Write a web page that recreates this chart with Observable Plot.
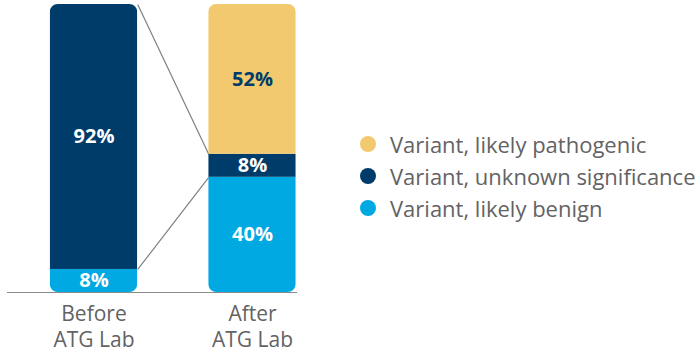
<!DOCTYPE html>
<html>
<head>
<meta charset="utf-8">
<script src="https://cdn.jsdelivr.net/npm/d3@7"></script>
<script src="https://cdn.jsdelivr.net/npm/@observablehq/plot@0.6"></script>
<style>
  html, body { margin: 0; padding: 0; background: #fff; }
  #wrap { position: relative; width: 700px; height: 355px; font-family: "Open Sans", sans-serif; }
  #chart { position: absolute; left: 0; top: 0; }
  #legend { position: absolute; left: 360px; top: 128px; }
  .row { display: flex; align-items: center; height: 32px; font-size: 22px; color: #636363; white-space: nowrap; }
  .sw { width: 16px; height: 16px; border-radius: 50%; margin-left: 0px; margin-right: 14px; }
</style>
</head>
<body>
<div id="wrap"><div id="chart"></div><div id="legend"></div></div>
<script>
// ---- data ----
const groups = ["Before\nATG Lab", "After\nATG Lab"];
const categories = ["Variant, likely benign", "Variant, unknown significance", "Variant, likely pathogenic"]; // bottom -> top
const benign = [8, 40];
const unknown = [92, 8];
const pathogenic = [0, 52];
const colors = ["#00a9e2", "#003c69", "#f2c96f"];
const labelColors = ["#ffffff", "#ffffff", "#003c69"];
const legendOrder = ["Variant, likely pathogenic", "Variant, unknown significance", "Variant, likely benign"];

// ---- build stacked table ----
const series = [benign, unknown, pathogenic];
const hw = 0.276; // half bar width in x units
const rows = [];
groups.forEach((g, i) => {
  let acc = 0;
  series.forEach((s, k) => {
    const v = s[i];
    if (v > 0) rows.push({i, group: g, cat: categories[k], k, y1: acc, y2: acc + v, v});
    acc += v;
  });
});
// connectors: edges of the "unknown" segment
const links = [
  {x1: 0 + hw, x2: 1 - hw, y1: benign[0] + unknown[0], y2: benign[1] + unknown[1]},
  {x1: 0 + hw, x2: 1 - hw, y1: benign[0], y2: benign[1]}
];
const labels = groups.map((g, i) => ({i, g}));

const plot = Plot.plot({
  width: 310,
  height: 355,
  marginLeft: 7,
  marginRight: 13,
  marginTop: 4,
  marginBottom: 63,
  x: {type: "linear", domain: [-0.5457, 1.284], axis: null},
  y: {domain: [0, 100], axis: null},
  color: {domain: categories, range: colors},
  style: {fontFamily: "Open Sans, sans-serif", background: "transparent"},
  marks: [
    Plot.link(links, {x1: "x1", x2: "x2", y1: "y1", y2: "y2", stroke: "#808080", strokeWidth: 1.2}),
    Plot.rect(rows, {x1: d => d.i - hw, x2: d => d.i + hw, y1: "y1", y2: "y2", fill: "cat"}),
    Plot.ruleY([0], {stroke: "#8a8a8a", strokeWidth: 1.2}),
    Plot.text(rows, {x: "i", y: d => (d.y1 + d.y2) / 2, text: d => d.v + "%",
      fill: d => labelColors[d.k], fontSize: 20, fontWeight: "bold"}),
    Plot.text(labels, {x: "i", y: 0, text: "g", fill: "#636363", fontSize: 21, lineAnchor: "top", lineHeight: 1.2, dy: 11})
  ]
});

// rounded corners for whole bars: clip the rect group using scales
const sx = plot.scale("x"), sy = plot.scale("y");
const ns = "http://www.w3.org/2000/svg";
const defs = document.createElementNS(ns, "defs");
const cp = document.createElementNS(ns, "clipPath");
cp.setAttribute("id", "barclip");
groups.forEach((g, i) => {
  const total = benign[i] + unknown[i] + pathogenic[i];
  const r = document.createElementNS(ns, "rect");
  const xa = sx.apply(i - hw), xb = sx.apply(i + hw);
  const ya = sy.apply(total), yb = sy.apply(0);
  r.setAttribute("x", xa); r.setAttribute("y", ya);
  r.setAttribute("width", xb - xa); r.setAttribute("height", yb - ya);
  r.setAttribute("rx", 8); r.setAttribute("ry", 8);
  cp.appendChild(r);
});
defs.appendChild(cp);
plot.insertBefore(defs, plot.firstChild);
const rectGroup = plot.querySelector('g[aria-label="rect"]');
if (rectGroup) rectGroup.setAttribute("clip-path", "url(#barclip)");

document.getElementById("chart").appendChild(plot);

// legend
const leg = document.getElementById("legend");
legendOrder.forEach(c => {
  const row = document.createElement("div");
  row.className = "row";
  const sw = document.createElement("span");
  sw.className = "sw";
  sw.style.background = colors[categories.indexOf(c)];
  const t = document.createElement("span");
  t.textContent = c;
  row.appendChild(sw); row.appendChild(t);
  leg.appendChild(row);
});
</script>
</body>
</html>
